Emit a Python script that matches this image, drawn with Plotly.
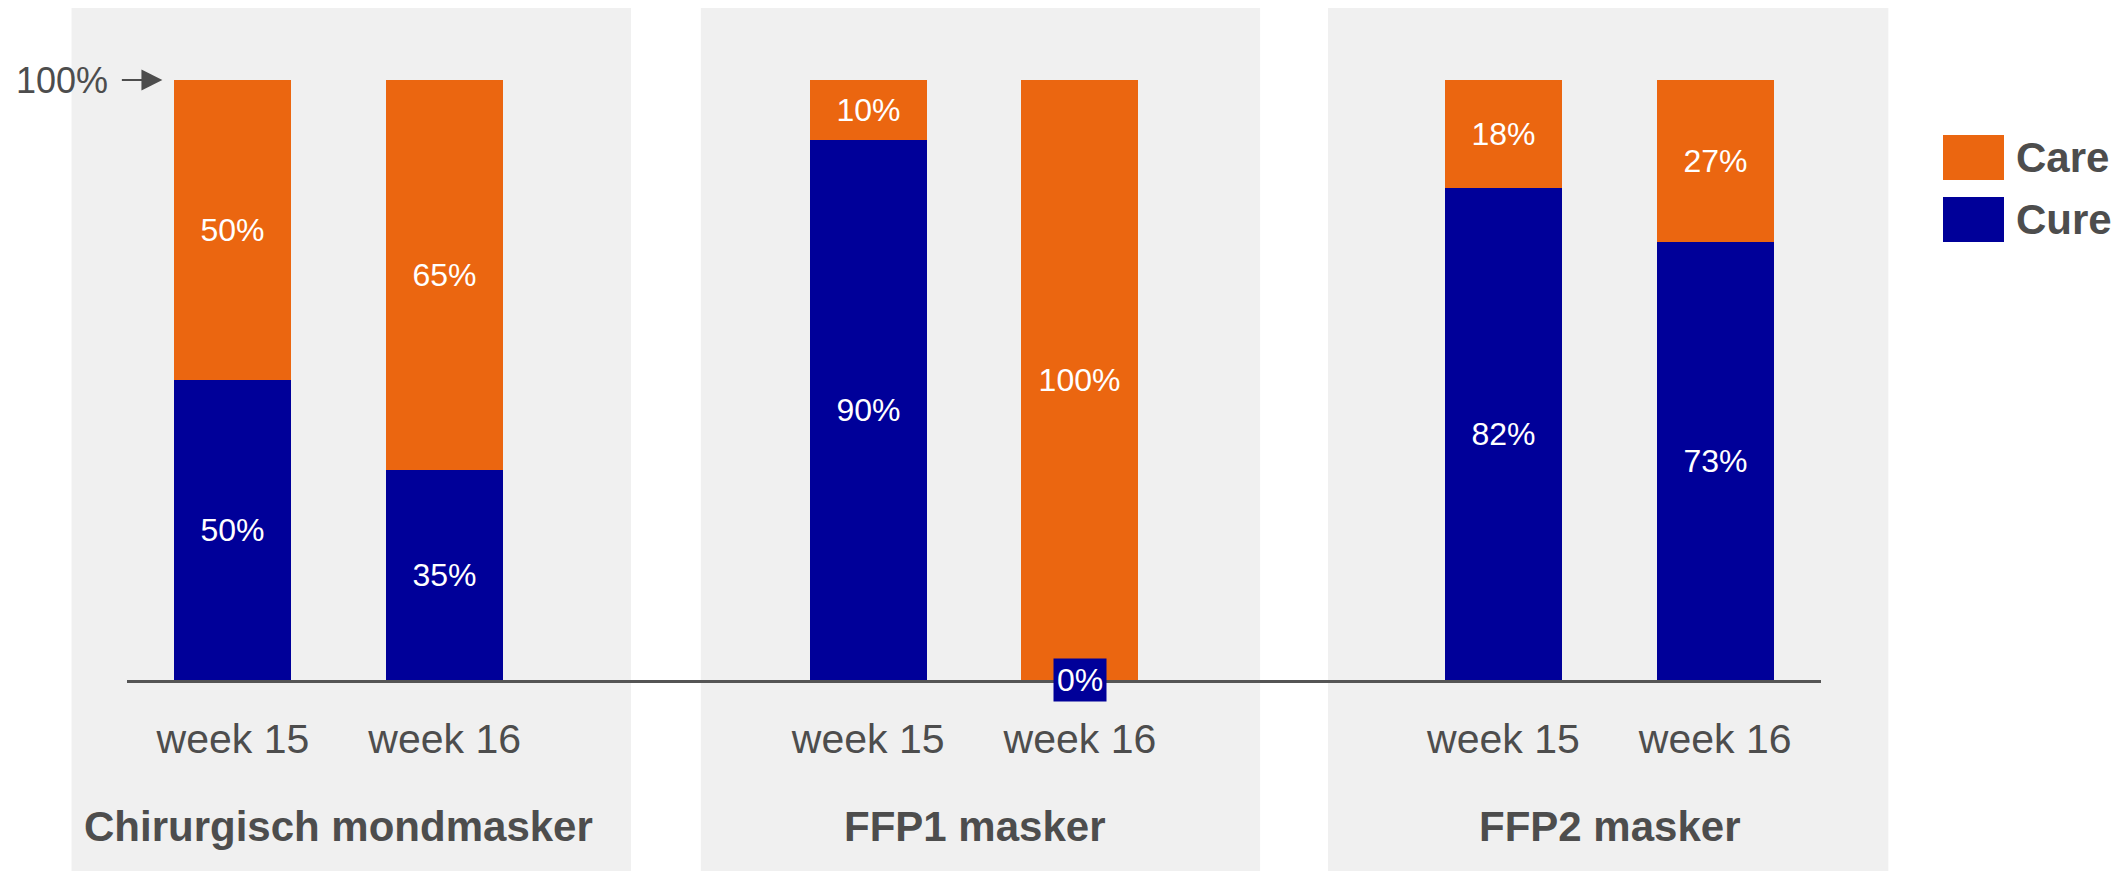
import plotly.graph_objects as go

# ---- data ----
groups = ["Chirurgisch mondmasker", "FFP1 masker", "FFP2 masker"]
weeks = ["week 15", "week 16"]
cure = [50, 35, 90, 0, 82, 73]
care = [50, 65, 10, 100, 18, 27]
series_names = ["Care", "Cure"]

# ---- styling ----
ORANGE = "#EB6610"
BLUE = "#000099"
GRAY_TXT = "#4D4D4D"
PANEL = "#F0F0F0"
FONT = "Liberation Sans, Arial, sans-serif"

# the page body has an 8px margin; size the figure so it fills the window
OFF = 8
W, H = 2126 - 2 * OFF, 871 - OFF
L = 127 - OFF
T = 80 - OFF
B = H - (680 - OFF)
R = W - (1821 - OFF)
pw, ph = W - L - R, H - T - B
XR = (-0.5, 7.5)

def px2paper_x(px):
    return (px - OFF - L) / pw

def px2paper_y(py):
    return (H - B - (py - OFF)) / ph

def data2paper_x(x):
    return (x - XR[0]) / (XR[1] - XR[0])

# x positions: two bars per group, one empty slot between groups
xpos = []
labels = []
for gi, g in enumerate(groups):
    for wi, w in enumerate(weeks):
        xpos.append(gi * 3 + wi)
        labels.append(w)

def fmt(vals):
    return [f"{v}%" if v > 0 else "" for v in vals]

fig = go.Figure()
fig.add_trace(go.Bar(
    x=xpos, y=cure, name="Cure", marker=dict(color=BLUE, line=dict(width=0)),
    width=0.553, text=fmt(cure), textposition="inside", insidetextanchor="middle",
    textfont=dict(color="white", size=32, family=FONT), constraintext="none",
    showlegend=False, hoverinfo="skip"))
fig.add_trace(go.Bar(
    x=xpos, y=care, name="Care", marker=dict(color=ORANGE, line=dict(width=0)),
    width=0.553, text=fmt(care), textposition="inside", insidetextanchor="middle",
    textfont=dict(color="white", size=32, family=FONT), constraintext="none",
    showlegend=False, hoverinfo="skip"))

shapes = []
annotations = []

# gray panels behind each group (paper coords so they are not clipped)
panel_edges = [(-0.762, 1.880), (2.210, 4.851), (5.172, 7.818)]
for (x0, x1) in panel_edges:
    shapes.append(dict(type="rect", xref="paper", yref="paper",
                       x0=data2paper_x(x0), x1=data2paper_x(x1),
                       y0=-0.4, y1=px2paper_y(6), fillcolor=PANEL, line=dict(width=0),
                       layer="below"))

# group labels
for gi, g in enumerate(groups):
    annotations.append(dict(text=f"<b>{g}</b>", xref="x", yref="paper",
                            x=gi * 3 + 0.5, y=px2paper_y(826), showarrow=False,
                            xanchor="center", yanchor="middle",
                            font=dict(size=42, color=GRAY_TXT, family=FONT)))

# zero-value cure labels shown as boxed labels at baseline
for xp, v in zip(xpos, cure):
    if v == 0:
        annotations.append(dict(text=f"{v}%", x=xp, y=0, xref="x", yref="y",
                                showarrow=False, bgcolor=BLUE, borderpad=3,
                                xanchor="center", yanchor="middle",
                                font=dict(size=32, color="white", family=FONT)))

# 100% marker with arrow
annotations.append(dict(text="100%", xref="paper", yref="y", x=px2paper_x(110), y=100,
                        xanchor="right", yanchor="middle", showarrow=False,
                        font=dict(size=36, color=GRAY_TXT, family=FONT)))
annotations.append(dict(text="", xref="x", yref="y", x=-0.333, y=100,
                        ax=-42, ay=0, showarrow=True, arrowhead=2,
                        arrowsize=1.9, arrowwidth=2.2, arrowcolor=GRAY_TXT))

# custom legend
leg_colors = {"Care": ORANGE, "Cure": BLUE}
leg_y = [(135, 180), (197, 242)]
for name, (y0, y1) in zip(series_names, leg_y):
    shapes.append(dict(type="rect", xref="paper", yref="paper",
                       x0=px2paper_x(1943), x1=px2paper_x(2004),
                       y0=px2paper_y(y1), y1=px2paper_y(y0),
                       fillcolor=leg_colors[name], line=dict(width=0)))
    annotations.append(dict(text=f"<b>{name}</b>", xref="paper", yref="paper",
                            x=px2paper_x(2014), y=px2paper_y((y0 + y1) / 2),
                            xanchor="left", yanchor="middle", showarrow=False,
                            font=dict(size=42, color=GRAY_TXT, family=FONT)))

fig.update_layout(
    width=W, height=H, autosize=False,
    margin=dict(l=L, r=R, t=T, b=B, pad=0),
    barmode="stack", bargap=0,
    paper_bgcolor="white", plot_bgcolor="rgba(0,0,0,0)",
    font=dict(family=FONT, color=GRAY_TXT),
    shapes=shapes, annotations=annotations,
    xaxis=dict(range=list(XR), tickmode="array", tickvals=xpos, ticktext=labels,
               showline=True, linecolor="#555555", linewidth=2.5, showgrid=False,
               zeroline=False, ticks="", tickfont=dict(size=41, color=GRAY_TXT, family=FONT),
               ticklabelstandoff=21, fixedrange=True),
    yaxis=dict(range=[0, 100], visible=False, fixedrange=True),
)

fig.write_html("out.html")
